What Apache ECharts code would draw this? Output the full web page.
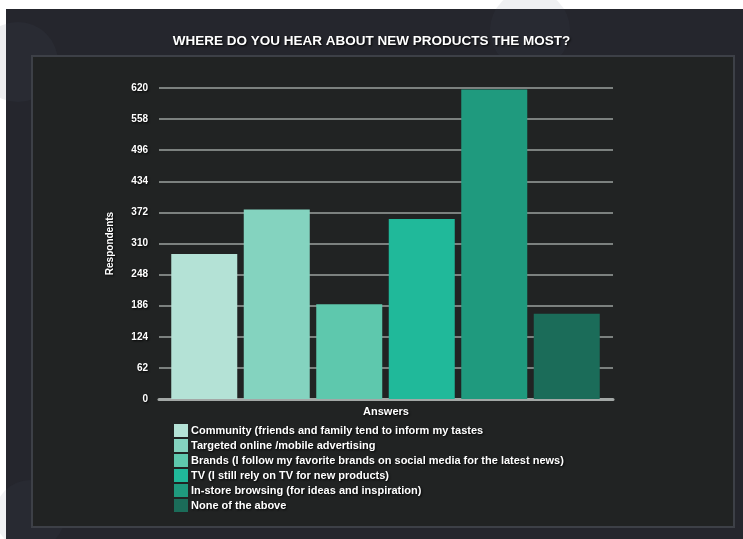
<!DOCTYPE html>
<html><head><meta charset="utf-8">
<script src="https://cdn.jsdelivr.net/npm/echarts@6/dist/echarts.min.js"></script>
<style>html,body{margin:0;padding:0;background:#fff}#c{width:743px;height:539px}</style>
</head><body><div id="c"></div>
<script>
const title = 'WHERE DO YOU HEAR ABOUT NEW PRODUCTS THE MOST?';
const categories = [
  'Community (friends and family tend to inform my tastes',
  'Targeted online /mobile advertising',
  'Brands (I follow my favorite brands on social media for the latest news)',
  'TV (I still rely on TV for new products)',
  'In-store browsing (for ideas and inspiration)',
  'None of the above'
];
const values = [289, 378, 189, 359, 617, 170];
const colors = ['#b4e2d6', '#84d3bf', '#5ec8ad', '#20b99a', '#1f9a7e', '#1b6c59'];
const yTicks = [0, 62, 124, 186, 248, 310, 372, 434, 496, 558, 620];
const yMax = 620, yStep = 62;

const chart = echarts.init(document.getElementById('c'), null, {renderer: 'canvas'});
const font = '"Liberation Sans", Arial, sans-serif';
const shadow = {textShadowColor: 'rgba(0,0,0,0.9)', textShadowBlur: 2, textShadowOffsetX: 1, textShadowOffsetY: 1};

const series = categories.map((name, i) => ({
  name: name,
  type: 'bar',
  stack: 'all',
  xAxisIndex: 1,
  yAxisIndex: 1,
  barWidth: 66,
  itemStyle: {color: colors[i]},
  data: categories.map((c, j) => j === i ? values[i] : '-')
}));

chart.setOption({
  animation: false,
  backgroundColor: '#ffffff',
  graphic: [
    {type: 'rect', z: -10, shape: {x: 6, y: 9, width: 737, height: 530}, style: {fill: '#25262d'}},
    {type: 'circle', z: -9, shape: {cx: 18, cy: 62, r: 40}, style: {fill: 'rgba(80,84,110,0.10)'}},
    {type: 'circle', z: -9, shape: {cx: 530, cy: 30, r: 40}, style: {fill: 'rgba(80,84,110,0.09)'}},
    {type: 'circle', z: -9, shape: {cx: 30, cy: 515, r: 35}, style: {fill: 'rgba(80,84,110,0.08)'}},
    {type: 'rect', z: -8, shape: {x: 32, y: 56, width: 702, height: 471}, style: {fill: '#212323', stroke: '#3d4047', lineWidth: 2}}
  ],
  title: {
    text: title, left: 'center', top: 29,
    textStyle: {color: '#ffffff', fontFamily: font, fontWeight: 'bold', fontSize: 13.5, ...shadow}
  },
  legend: {
    orient: 'vertical', left: 169, top: 419,
    itemWidth: 14, itemHeight: 13, itemGap: 2,
    icon: 'rect',
    textStyle: {color: '#ffffff', fontFamily: font, fontWeight: 'bold', fontSize: 11, padding: [0, 0, 0, -2], ...shadow},
    data: categories
  },
  grid: [
    {left: 159, right: 130, top: 88, bottom: 140},
    {left: 168, right: 140, top: 88, bottom: 140}
  ],
  xAxis: [
    {type: 'category', gridIndex: 0, data: categories, axisLabel: {show: false}, axisTick: {show: false},
     axisLine: {lineStyle: {color: '#a3a8a6', width: 3}},
     name: 'Answers', nameLocation: 'middle', nameGap: 7,
     nameTextStyle: {color: '#ffffff', fontFamily: font, fontWeight: 'bold', fontSize: 11, ...shadow}},
    {type: 'category', gridIndex: 1, data: categories, show: false}
  ],
  yAxis: [
    {type: 'value', gridIndex: 0, min: 0, max: yMax, interval: yStep,
     axisLine: {show: false}, axisTick: {show: false},
     splitLine: {lineStyle: {color: '#7c817f', width: 2}},
     axisLabel: {color: '#ffffff', fontFamily: font, fontWeight: 'bold', fontSize: 10, margin: 11, ...shadow,
       formatter: v => yTicks.includes(v) ? String(v) : ''},
     name: 'Respondents', nameLocation: 'middle', nameGap: 44,
     nameTextStyle: {color: '#ffffff', fontFamily: font, fontWeight: 'bold', fontSize: 10, ...shadow}},
    {type: 'value', gridIndex: 1, min: 0, max: yMax, interval: yStep, show: false, splitLine: {show: false}}
  ],
  series: series
});
</script></body></html>
